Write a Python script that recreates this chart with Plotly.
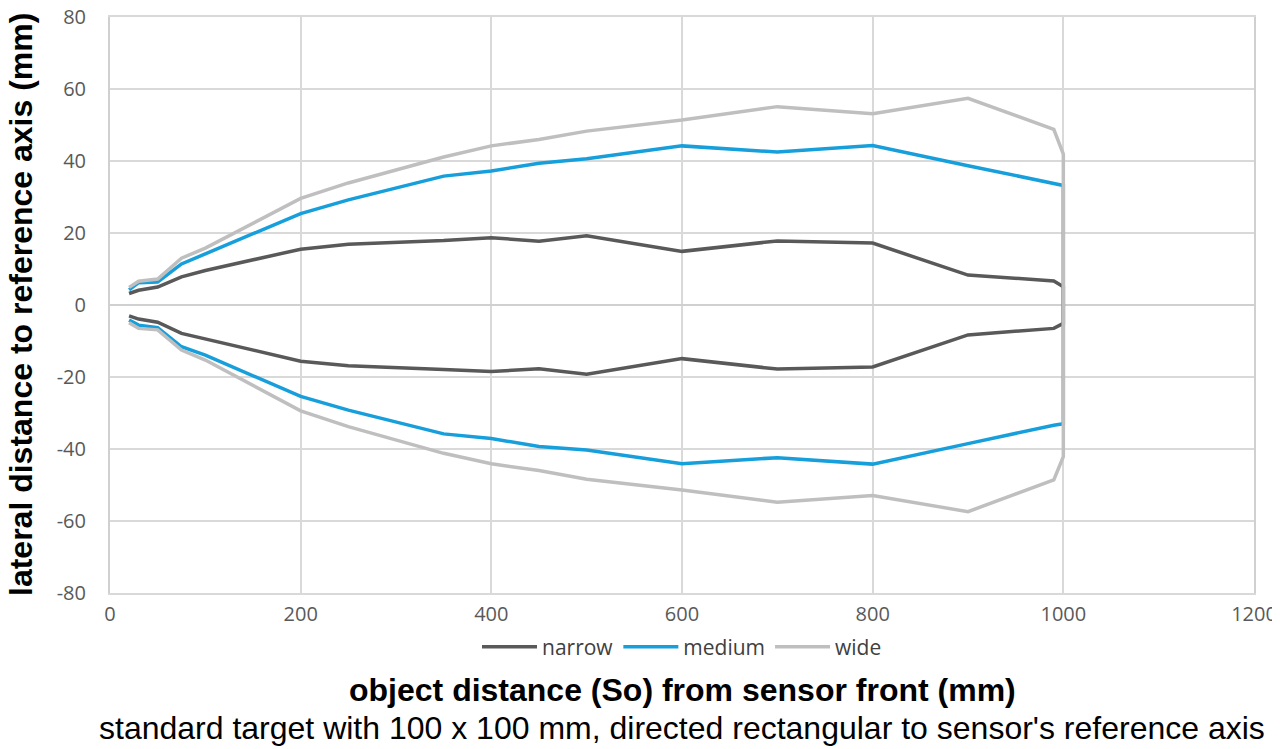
import plotly.graph_objects as go

# object distance (mm)
distance = [20, 30, 50, 75, 100, 200, 250, 350, 400, 450, 500, 600, 700, 800, 900, 990, 1000]

# lateral distance (mm), upper and lower edge of each beam
narrow_upper = [3.2, 4.1, 5.0, 7.8, 9.6, 15.5, 16.9, 17.9, 18.7, 17.7, 19.2, 14.9, 17.8, 17.2, 8.3, 6.7, 5.1]
narrow_lower = [-3.0, -3.9, -4.8, -7.9, -9.5, -15.6, -16.9, -17.9, -18.5, -17.7, -19.2, -14.9, -17.8, -17.2, -8.3, -6.5, -5.1]
medium_upper = [4.2, 6.2, 6.4, 11.4, 14.2, 25.4, 29.2, 35.8, 37.2, 39.4, 40.6, 44.2, 42.5, 44.3, 38.7, 33.7, 33.2]
medium_lower = [-4.2, -5.6, -6.3, -11.6, -13.9, -25.4, -29.2, -35.8, -37.1, -39.3, -40.3, -44.1, -42.4, -44.2, -38.5, -33.4, -33.0]
wide_upper = [4.9, 6.6, 7.2, 13.0, 15.8, 29.6, 33.9, 41.1, 44.2, 46.0, 48.3, 51.4, 55.1, 53.1, 57.4, 48.8, 41.9]
wide_lower = [-4.9, -6.5, -6.9, -12.5, -15.3, -29.4, -33.8, -41.2, -44.1, -46.0, -48.4, -51.4, -54.8, -52.9, -57.4, -48.6, -42.1]

# y ticks with plain hyphen minus, as in the original
y_ticks = [-80, -60, -40, -20, 0, 20, 40, 60, 80]
y_labels = ["-80", "-60", "-40", "-20", "0", "20", "40", "60", "80"]

series = [
    ("narrow", narrow_upper, narrow_lower, "#595959"),
    ("medium", medium_upper, medium_lower, "#179FDB"),
    ("wide", wide_upper, wide_lower, "#BFBFBF"),
]

fig = go.Figure()

for name, upper, lower, color in series:
    # one closed outline: upper edge out, lower edge back
    fig.add_trace(go.Scatter(
        x=distance + distance[::-1],
        y=upper + lower[::-1],
        mode="lines", name=name,
        line=dict(color=color, width=3.5),
    ))

# page body adds 8px margin, so figure is 8px smaller than the window
fig.update_layout(
    width=1272, height=741,
    margin=dict(l=102, r=26, t=9, b=156, autoexpand=False),
    plot_bgcolor="white", paper_bgcolor="white",
    font=dict(family="Open Sans", size=20, color="#595959"),
    showlegend=True,
    legend=dict(orientation="h", x=0.5, xanchor="center", y=-0.094, yanchor="middle",
                font=dict(family="Open Sans", size=21, color="#404040"),
                itemwidth=55, tracegroupgap=0),
    xaxis=dict(range=[0, 1200], dtick=200, showgrid=True, gridcolor="#D9D9D9", gridwidth=2,
               zeroline=False, showline=True, mirror=True, linecolor="#D9D9D9", linewidth=2,
               ticks="", ticklabelstandoff=2, ticklabeloverflow="allow",
               tickfont=dict(size=20, color="#595959")),
    yaxis=dict(range=[-80, 80], tickvals=y_ticks, ticktext=y_labels,
               showgrid=True, gridcolor="#D9D9D9", gridwidth=2,
               zeroline=True, zerolinecolor="#D0D0D0", zerolinewidth=2,
               showline=True, mirror=True, linecolor="#D0D0D0", linewidth=2,
               ticks="", ticklabelstandoff=18, ticklabeloverflow="allow",
               tickfont=dict(size=20, color="#595959")),
)

fig.add_annotation(
    text="<b>lateral distance to reference axis (mm)</b>",
    xref="paper", yref="paper", x=0, y=0.5, xshift=-89, textangle=-90, showarrow=False,
    xanchor="center", yanchor="middle",
    font=dict(family="Liberation Sans", size=32, color="black"),
)
fig.add_annotation(
    text="<b>object distance (So) from sensor front (mm)</b>",
    xref="paper", yref="paper", x=0.5, y=0, yshift=-97, showarrow=False,
    font=dict(family="Liberation Sans", size=32, color="black"), yanchor="middle",
)
fig.add_annotation(
    text="standard target with 100 x 100 mm, directed rectangular to sensor's reference axis",
    xref="paper", yref="paper", x=0.5, y=0, yshift=-135, showarrow=False,
    font=dict(family="Liberation Sans", size=32, color="black"), yanchor="middle",
)

fig.write_html("out.html")
